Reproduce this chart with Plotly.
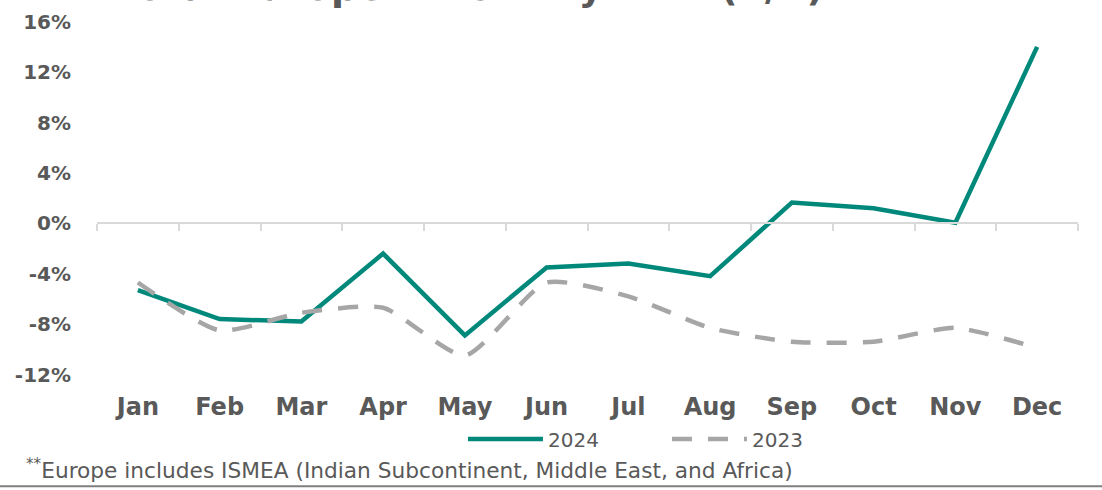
import plotly.graph_objects as go

months = ["Jan", "Feb", "Mar", "Apr", "May", "Jun", "Jul", "Aug", "Sep", "Oct", "Nov", "Dec"]
y2024 = [-5.3, -7.6, -7.8, -2.4, -8.9, -3.5, -3.2, -4.2, 1.65, 1.2, 0.05, 14.0]
y2023 = [-4.7, -8.5, -7.1, -6.7, -10.5, -4.7, -5.8, -8.3, -9.4, -9.4, -8.3, -9.9]
ytick_vals = [-12, -8, -4, 0, 4, 8, 12, 16]
ytick_text = ["-12%", "-8%", "-4%", "0%", "4%", "8%", "12%", "16%"]

TEAL = "#00897B"
GRAY = "#A6A6A6"
TXT = "#595959"
FONT = "DejaVu Sans"

ymin, ymax = -13.23, 16.69

fig = go.Figure()
fig.add_trace(go.Scatter(x=months, y=y2024, name="2024", mode="lines",
                         line=dict(color=TEAL, width=4.5)))
fig.add_trace(go.Scatter(x=months, y=y2023, name="2023", mode="lines",
                         line=dict(color=GRAY, width=4.5, dash="20px,16px", shape="spline", smoothing=0.6)))

# invisible trace to hold secondary x axis (zero line with boundary ticks)
fig.add_trace(go.Scatter(x=months, y=[None]*12, xaxis="x2", showlegend=False, hoverinfo="skip"))

fig.update_layout(
    width=1102, height=490,
    margin=dict(l=97, r=24, t=10, b=100),
    paper_bgcolor="white", plot_bgcolor="white",
    font=dict(family=FONT, color=TXT),
    showlegend=True,
    legend=dict(orientation="h", x=0.581, xanchor="center", y=-0.13, yanchor="middle",
                font=dict(size=20, color=TXT, family=FONT), itemwidth=75,
                entrywidth=114, entrywidthmode="pixels",
                traceorder="normal", bgcolor="rgba(0,0,0,0)"),
    xaxis=dict(type="category", categoryorder="array", categoryarray=months,
               range=[-0.5, 11.5], showline=False, showgrid=False, zeroline=False,
               ticks="", tickfont=dict(size=24, color=TXT, family=FONT, weight="bold")),
    xaxis2=dict(type="category", categoryorder="array", categoryarray=months,
                range=[-0.5, 11.5], overlaying="x", anchor="free",
                position=(0 - ymin) / (ymax - ymin), side="bottom",
                showline=True, linecolor="#D9D9D9", linewidth=1.5,
                ticks="outside", tickson="boundaries", ticklen=7, tickcolor="#D9D9D9", tickwidth=1.5,
                showticklabels=False, showgrid=False, zeroline=False),
    yaxis=dict(range=[ymin, ymax], tickvals=ytick_vals, ticktext=ytick_text,
               showgrid=False, zeroline=False, showline=False, ticks="",
               ticklabelstandoff=25,
               tickfont=dict(size=20, color=TXT, family=FONT, weight="bold")),
)

fig.add_annotation(text="Total Europe – Monthly ADV (Y/Y)", xref="paper", yref="paper",
                   x=0.380, y=(390 - 8) / 380, xanchor="center", yanchor="bottom",
                   showarrow=False, font=dict(size=38, color=TXT, family=FONT, weight="bold"))
fig.add_annotation(text="<sup>**</sup>Europe includes ISMEA (Indian Subcontinent, Middle East, and Africa)",
                   xref="paper", yref="paper", x=(24 - 97) / 981, y=-(470 - 390) / 380,
                   xanchor="left", yanchor="middle", showarrow=False,
                   font=dict(size=21.7, color=TXT, family=FONT))
fig.add_shape(type="line", xref="paper", yref="paper", x0=-97 / 981, x1=(1102 - 97) / 981,
              y0=-(487 - 390) / 380, y1=-(487 - 390) / 380,
              line=dict(color="#7F7F7F", width=2))

fig.write_html("out.html", config={"displayModeBar": False},
               post_script="document.body.style.margin='0';document.body.style.overflow='hidden';")
